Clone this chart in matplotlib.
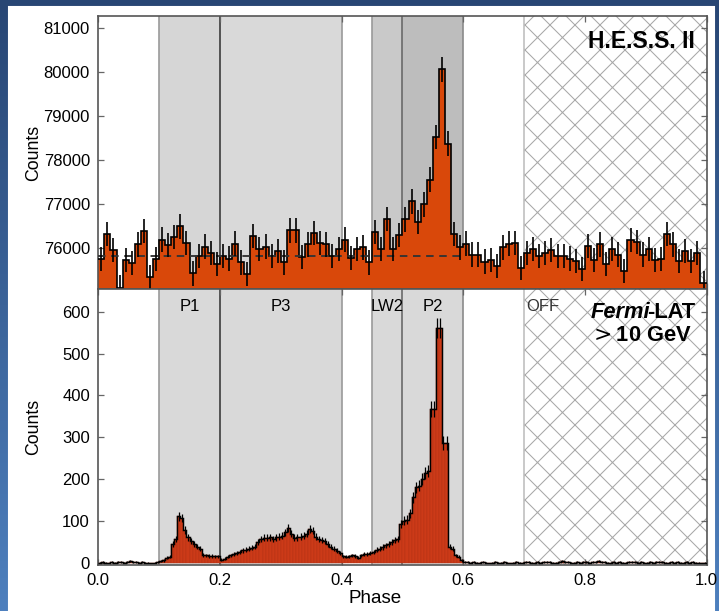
import numpy as np
import matplotlib
matplotlib.use('Agg')
import matplotlib.pyplot as plt
from matplotlib.patches import Rectangle
from matplotlib.transforms import blended_transform_factory

plt.rcParams['font.family'] = ['Liberation Sans', 'DejaVu Sans']
plt.rcParams['hatch.linewidth'] = 0.5

# H.E.S.S. II phaseogram, 100 bins over one period
hess_counts = np.array([
    75750, 76320, 75960, 75110, 75740, 75660, 76090, 76390, 75350, 75750,
    76200, 76080, 76260, 76500, 76130, 75430, 75830, 76040, 75900, 75650,
    75830, 75770, 76110, 75680, 75410, 76280, 75990, 76040, 75830, 75940,
    75680, 76410, 76410, 75810, 76090, 76350, 76130, 76090, 75830, 75990,
    76200, 75790, 75990, 76020, 75680, 76370, 75980, 76670, 75980, 76300,
    76660, 77070, 76600, 77000, 77560, 78530, 80070, 78380, 76330, 76020,
    76110, 75860, 75860, 75700, 75740, 75600, 76020, 76110, 76130, 75560,
    75900, 75990, 75830, 75900, 75970, 75830, 75830, 75770, 75710, 75530,
    76050, 75740, 76090, 75640, 75990, 75860, 75490, 76190, 76140, 75860,
    75980, 75740, 75750, 76320, 76090, 75710, 75940, 75710, 75890, 75220,
], dtype=float)
hess_bkg = 75830

# Fermi-LAT > 10 GeV phaseogram, 200 bins
lat_counts = np.array([
    2, 3, 2, 1, 3, 2, 3, 4, 2, 3, 5, 4, 3, 2, 3, 2, 2, 1, 2, 3,
    6, 7, 13, 16, 46, 58, 112, 108, 80, 62, 53, 46, 40, 35, 20, 19, 18, 18, 17, 17,
    9, 11, 16, 19, 23, 25, 27, 31, 33, 35, 37, 40, 51, 58, 61, 61, 62, 58, 62, 64,
    66, 74, 85, 71, 61, 62, 64, 66, 71, 82, 78, 64, 58, 56, 53, 46, 40, 35, 30, 25,
    17, 16, 17, 19, 18, 13, 19, 23, 23, 25, 27, 33, 35, 39, 43, 46, 51, 55, 58, 94,
    102, 104, 119, 157, 181, 185, 201, 216, 220, 367, 367, 560, 560, 287, 287, 40, 35, 19, 16, 7,
    4, 3, 2, 3, 2, 2, 3, 2, 1, 2, 3, 2, 2, 3, 2, 1, 2, 3, 2, 2,
    3, 4, 2, 2, 3, 2, 3, 4, 3, 2, 2, 3, 5, 4, 3, 2, 2, 3, 2, 3,
    3, 2, 3, 4, 5, 4, 3, 2, 2, 3, 2, 3, 2, 2, 3, 4, 3, 2, 3, 2,
    2, 3, 2, 3, 4, 3, 2, 2, 3, 2, 3, 2, 2, 3, 2, 3, 2, 2, 1, 2,
], dtype=float)

# phase regions
region_names = ['P1', 'P3', 'LW2', 'P2']
region_lo = [0.1, 0.2, 0.45, 0.5]
region_hi = [0.2, 0.4, 0.5, 0.6]
region_shade_hess = ['#d6d6d6', '#d9d9d9', '#c9c9c9', '#bdbdbd']
region_shade_lat = ['#d9d9d9', '#d9d9d9', '#d9d9d9', '#d9d9d9']
off_lo, off_hi = 0.7, 1.0
edge_pos = [0.1, 0.2, 0.4, 0.45, 0.5, 0.6, 0.7]
edge_col = ['#9a9a9a', '#3c3c3c', '#9a9a9a', '#9a9a9a', '#6a6a6a', '#8a8a8a', '#c0c0c0']

DPI = 150
fig = plt.figure(figsize=(719 / DPI, 611 / DPI), dpi=DPI)

# blue slide background with white panel
bg = fig.add_axes([0, 0, 1, 1], zorder=-5)
g = np.linspace(0, 1, 256)[:, None, None]
c_top = np.array([40, 70, 116]) / 255
c_bot = np.array([78, 128, 190]) / 255
bg.imshow(c_top * (1 - g) + c_bot * g, aspect='auto', extent=[0, 1, 0, 1], origin='upper')
bg.add_patch(Rectangle((9 / 719, 0), (714 - 9) / 719, (611 - 7) / 611,
                       color='white', transform=bg.transAxes))
bg.set_xlim(0, 1)
bg.set_ylim(0, 1)
bg.axis('off')

ax1 = fig.add_axes([0.1367, 0.5265, 0.8460, 0.4473])
ax2 = fig.add_axes([0.1367, 0.0759, 0.8460, 0.4506], sharex=ax1)

hess_ylim = (75070, 81280)
lat_ylim = (-3, 653)

for ax, shades in ((ax1, region_shade_hess), (ax2, region_shade_lat)):
    for lo, hi, col in zip(region_lo, region_hi, shades):
        ax.axvspan(lo, hi, color=col, lw=0, zorder=0)
    ax.axvspan(off_lo, off_hi, facecolor='white', edgecolor='#a8a8a8', hatch='xx', lw=0, zorder=0.5)
    for x, col in zip(edge_pos, edge_col):
        ax.axvline(x, color=col, lw=0.8, zorder=1)

# H.E.S.S. II panel
hess_edges = np.linspace(0, 1, len(hess_counts) + 1)
hess_centers = 0.5 * (hess_edges[:-1] + hess_edges[1:])
ax1.stairs(hess_counts, hess_edges, baseline=hess_ylim[0], fill=True, color='#d9480a', zorder=2)
ax1.stairs(hess_counts, hess_edges, baseline=None, color='black', lw=0.8, zorder=3)
ax1.errorbar(hess_centers, hess_counts, yerr=np.sqrt(hess_counts), fmt='none',
             ecolor='black', elinewidth=0.8, zorder=4)
ax1.hlines(hess_bkg, 0, 0.6, colors='#333333', linestyles=(0, (4, 3)), lw=0.9, zorder=3.5)
ax1.set_ylim(*hess_ylim)
ax1.set_yticks(range(76000, 81001, 1000))
ax1.text(0.981, 0.905, 'H.E.S.S. II', transform=ax1.transAxes, ha='right', va='center',
         fontsize=11, fontweight='bold', zorder=6)

# Fermi-LAT panel
lat_edges = np.linspace(0, 1, len(lat_counts) + 1)
lat_centers = 0.5 * (lat_edges[:-1] + lat_edges[1:])
ax2.bar(lat_edges[:-1], lat_counts, width=np.diff(lat_edges), align='edge',
        color='#cc3a18', edgecolor='#b03216', lw=0.2, zorder=2)
ax2.stairs(lat_counts, lat_edges, baseline=None, color='black', lw=0.7, zorder=3)
ax2.errorbar(lat_centers, lat_counts, yerr=np.sqrt(lat_counts), fmt='none',
             ecolor='black', elinewidth=0.6, zorder=4)
ax2.set_ylim(*lat_ylim)
ax2.set_yticks(range(0, 601, 100))
ax2.set_xlim(0, 1)
ax2.set_xticks(np.arange(0, 1.01, 0.2))
ax2.xaxis.set_major_formatter(matplotlib.ticker.FormatStrFormatter('%.1f'))

trans = blended_transform_factory(ax2.transData, ax2.transAxes)
for name, lo, hi in zip(region_names, region_lo, region_hi):
    ax2.text(0.5 * (lo + hi), 0.939, name, transform=trans, ha='center', va='center',
             fontsize=8, zorder=6)
ax2.text(off_lo + 0.004, 0.939, 'OFF', transform=trans, ha='left', va='center',
         fontsize=8, color='#333333', zorder=6)

lat = ax2.text(0.981, 0.916, '-LAT', transform=ax2.transAxes, ha='right', va='center',
               fontsize=10.5, fontweight='bold', zorder=6)
ax2.annotate('Fermi', xy=(0, 0.5), xycoords=lat, xytext=(1.5, 0), textcoords='offset points',
             ha='right', va='center', fontsize=10.5, fontweight='bold', fontstyle='italic',
             zorder=6)
ax2.text(0.8905, 0.834, r'$>$10 GeV', transform=ax2.transAxes, ha='center', va='center',
         fontsize=10.5, fontweight='bold', zorder=6)

for ax in (ax1, ax2):
    ax.tick_params(direction='in', length=3, width=0.6, color='#666666', top=True, right=True,
                   labelsize=8, pad=4)
    for sp in ax.spines.values():
        sp.set_color('#555555')
        sp.set_linewidth(0.8)
    ax.set_ylabel('Counts', fontsize=8.5, va='center')
    ax.yaxis.set_label_coords(-0.107, 0.5)
ax1.tick_params(labelbottom=False)

ax2.set_xlabel('Phase', fontsize=9, va='center')
ax2.xaxis.set_label_coords(0.455, -0.122)

fig.savefig('out.png', dpi=DPI)
